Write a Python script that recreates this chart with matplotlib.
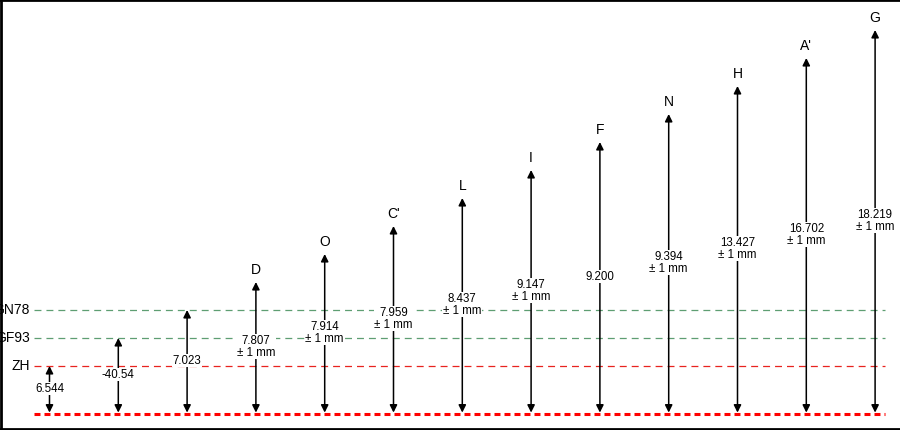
import numpy as np
import matplotlib
matplotlib.use("Agg")
import matplotlib.pyplot as plt

plt.rcParams['font.family'] = ['Liberation Sans', 'DejaVu Sans']
plt.rcParams['lines.scale_dashes'] = False

# reference levels (bottom to top) and the point labels above them
ref_names = ["ZH", "GF93", "GN78"]
point_names = ["D", "O", "C'", "L", "I", "F", "N", "H", "A'", "G"]
values = ["6.544", "-40.54", "7.023", "7.807", "7.914", "7.959", "8.437",
          "9.147", "9.200", "9.394", "13.427", "16.702", "18.219"]
tolerance = [False, False, False, True, True, True, True,
             True, False, True, True, True, True]

n = len(values)
x = np.arange(n)
zh_offset = 48 / 28          # ZH step height relative to one level step
tops = zh_offset + np.arange(n)

fig = plt.figure(figsize=(9, 4.3), dpi=100)
ax = fig.add_axes([0.5 / 900, 1.5 / 430, 1, 1 - 1.5 / 430])
ax.set_xlim(-49 / 68.8, 851 / 68.8)
ax.set_ylim(-14.5 / 28, 414 / 28)
ax.set_xticks([])
ax.set_yticks([])
for side in ["left", "top", "bottom"]:
    ax.spines[side].set_linewidth(2)
ax.spines["right"].set_visible(False)

x0, x1 = -0.23, 12.15
# reference level lines
ref_colors = ["#e8231f", "#5e9e72", "#5e9e72"]
for i, (name, c) in enumerate(zip(ref_names, ref_colors)):
    ax.plot([x0, x1], [tops[i], tops[i]], color=c, lw=0.9, dashes=(5, 3.6))
    ax.text(x0 - 0.06, tops[i], name, ha="right", va="center", fontsize=10)

# baseline
ax.plot([x0, x1], [0, 0], color="#ff0000", lw=2.2, dashes=(4.3, 2.9), zorder=1)

# arrows
for xi, top in zip(x, tops):
    ax.annotate("", xy=(xi, top), xytext=(xi, 0.05),
                arrowprops=dict(arrowstyle="<|-|>", color="black", lw=1.1,
                                mutation_scale=11, shrinkA=0, shrinkB=0),
                zorder=3)

# value labels with white background interrupting the arrow
for xi, top, v, t in zip(x, tops, values, tolerance):
    label = v + "\n± 1 mm" if t else v
    ax.text(xi, top / 2 + 0.05, label, ha="center", va="center", fontsize=8.3,
            linespacing=1.0,
            bbox=dict(facecolor="white", edgecolor="none", pad=0.5), zorder=4)

# point names above arrow tips
for xi, top, name in zip(x[3:], tops[3:], point_names):
    ax.text(xi, top + 0.42, name, ha="center", va="center", fontsize=10)

fig.savefig("out.png", dpi=100)
